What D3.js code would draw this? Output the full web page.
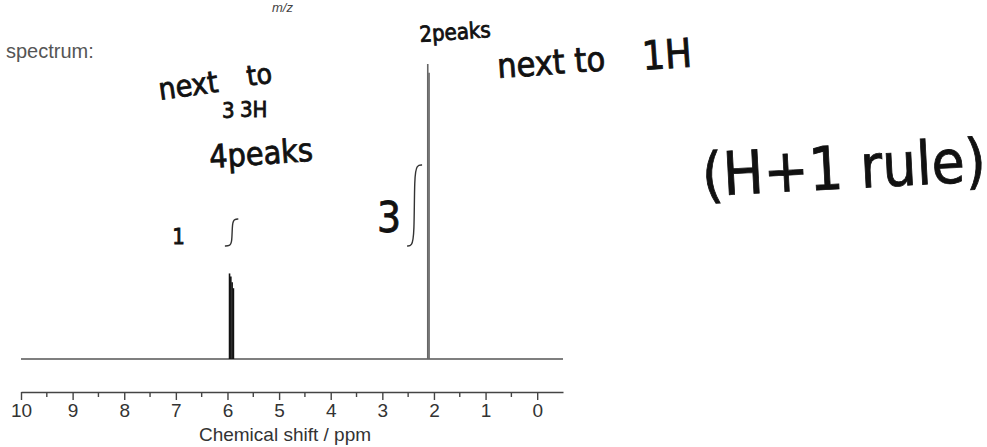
<!DOCTYPE html>
<html>
<head>
<meta charset="utf-8">
<script src="https://cdn.jsdelivr.net/npm/d3@7"></script>
<style>
    body { margin: 0; background: #fff; }
    svg { display: block; }
</style>
</head>
<body>
<svg id="chart" width="987" height="447"></svg>
<script>
// 1H NMR spectrum - quartet near 5.9 ppm, doublet near 2.1 ppm, with handwritten notes

const ppmTicks = [10, 9, 8, 7, 6, 5, 4, 3, 2, 1, 0];
const ppmMinorTicks = [9.5, 8.5, 7.5, 6.5, 5.5, 4.5, 3.5, 2.5, 1.5, 0.5];

// peak sticks (ppm, relative height, multiplet)
const peakShifts = [5.96, 5.935, 5.91, 5.885, 2.12, 2.095];
const peakHeights = [29, 28, 26, 24, 100, 97];
const peakGroups = ['quartet', 'quartet', 'quartet', 'quartet', 'doublet', 'doublet'];

// integration trace steps
const integralFrom = [6.05, 2.52];
const integralMid = [5.91, 2.38];
const integralTo = [5.79, 2.23];
const integralValues = [1, 3];
const integralLabels = ['1', '3'];

const svg = d3.select('#chart');
const width = 987;
const height = 447;

svg.append('rect')
    .attr('width', width)
    .attr('height', height)
    .attr('fill', '#fff');

// scales
const xScale = d3.scaleLinear()
    .domain([10, -0.5])
    .range([21, 563]);

const yScale = d3.scaleLinear()
    .domain([0, 100])
    .range([359, 64]);

const yInt = d3.scaleLinear()
    .domain([0, 3])
    .range([246, 165]);

const axisY = 392;

// axis
const axis = svg.append('g')
    .attr('transform', `translate(0, ${axisY})`)
    .call(d3.axisBottom(xScale)
        .tickValues(ppmTicks)
        .tickFormat(d3.format('d'))
        .tickSize(8)
        .tickSizeOuter(0)
        .tickPadding(4));

axis.select('.domain')
    .attr('stroke', '#444')
    .attr('stroke-width', 1.4);

axis.selectAll('.tick line')
    .attr('stroke', '#444')
    .attr('stroke-width', 1.4);

axis.selectAll('.tick text')
    .attr('fill', '#333')
    .attr('font-family', '"Liberation Sans", Arial, sans-serif')
    .attr('font-size', '19px');

svg.append('g')
    .selectAll('line')
    .data(ppmMinorTicks)
    .enter()
    .append('line')
    .attr('x1', d => xScale(d))
    .attr('x2', d => xScale(d))
    .attr('y1', axisY)
    .attr('y2', axisY + 5)
    .attr('stroke', '#444')
    .attr('stroke-width', 1.4);

svg.append('text')
    .attr('x', 285)
    .attr('y', 441)
    .attr('text-anchor', 'middle')
    .attr('fill', '#333')
    .attr('font-family', '"Liberation Sans", Arial, sans-serif')
    .attr('font-size', '19px')
    .text('Chemical shift / ppm');

// spectrum baseline
svg.append('line')
    .attr('x1', xScale(10))
    .attr('x2', xScale(-0.5))
    .attr('y1', yScale(0))
    .attr('y2', yScale(0))
    .attr('stroke', '#555')
    .attr('stroke-width', 1.3);

// peak sticks
const peaks = peakShifts.map((p, i) => ({ ppm: p, h: peakHeights[i], group: peakGroups[i] }));

svg.append('g')
    .selectAll('line')
    .data(peaks)
    .enter()
    .append('line')
    .attr('x1', d => xScale(d.ppm))
    .attr('x2', d => xScale(d.ppm))
    .attr('y1', yScale(0))
    .attr('y2', d => yScale(d.h))
    .attr('stroke', d => d.group === 'quartet' ? '#111' : '#666')
    .attr('stroke-width', 1.6);

// integration trace
const intLine = d3.line()
    .x(d => xScale(d[0]))
    .y(d => yInt(d[1]))
    .curve(d3.curveBasis);

integralValues.forEach((v, i) => {
    const pts = [
        [integralFrom[i], 0],
        [integralMid[i] + 0.05, 0],
        [integralMid[i], 0.12 * v],
        [integralMid[i], 0.88 * v],
        [integralMid[i] - 0.05, v],
        [integralTo[i], v]
    ];
    svg.append('path')
        .attr('d', intLine(pts))
        .attr('fill', 'none')
        .attr('stroke', '#333')
        .attr('stroke-width', 1.4);
});

// printed text
svg.append('text')
    .attr('x', 6)
    .attr('y', 58)
    .attr('fill', '#555')
    .attr('font-family', '"Liberation Sans", Arial, sans-serif')
    .attr('font-size', '20px')
    .text('spectrum:');

svg.append('text')
    .attr('x', 272)
    .attr('y', 12)
    .attr('fill', '#444')
    .attr('font-family', '"Liberation Sans", Arial, sans-serif')
    .attr('font-style', 'italic')
    .attr('font-size', '13px')
    .text('m/z');

// handwritten notes
const hand = '"Liberation Sans Narrow", "DejaVu Sans Condensed", "Noto Sans", sans-serif';

function note(x, y, size, txt, rot = 0, anchor = 'start') {
    svg.append('text')
        .attr('x', x)
        .attr('y', y)
        .attr('text-anchor', anchor)
        .attr('transform', `rotate(${rot}, ${x}, ${y})`)
        .attr('fill', '#111')
        .attr('stroke', '#111')
        .attr('stroke-width', 0.8)
        .attr('font-family', hand)
        .attr('font-stretch', 'condensed')
        .attr('font-size', size + 'px')
        .text(txt);
}

note(160, 100, 30, 'next', -8);
note(248, 86, 28, 'to', -8);
note(222, 118, 22, '3', 0);
note(240, 117, 22, '3H', 0);
note(210, 168, 32, '4peaks', -4);
note(420, 42, 22, '2peaks', -4);
note(498, 78, 34, 'next to', -4);
note(643, 70, 40, '1H', -4);
note(703, 196, 60, '(H+1 rule)', -3);

integralLabels.forEach((lab, i) => {
    const xr = xScale(integralFrom[i]) - (i === 0 ? 40 : 6);
    const size = i === 0 ? 22 : 42;
    note(xr, yInt(integralValues[i] * 0.35) + size * 0.35, size, lab, 0, 'end');
});
</script>
</body>
</html>
